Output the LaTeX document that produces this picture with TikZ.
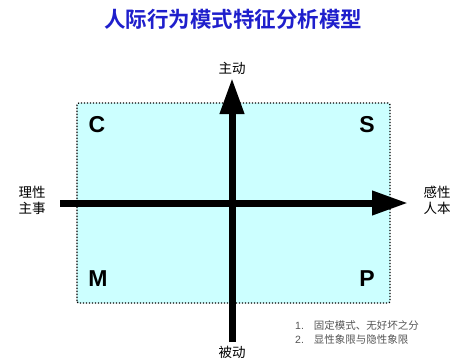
\documentclass[tikz,border=0pt]{standalone}
\usepackage{fontspec}
\setmainfont{Liberation Sans}
\newfontfamily\cjk{Noto Sans CJK SC}
\newfontfamily\cjkb{Noto Sans CJK SC Bold}
\usetikzlibrary{arrows.meta}
\definecolor{boxfill}{HTML}{CCFFFF}
\definecolor{titleblue}{HTML}{1F1FCC}
\definecolor{notegray}{HTML}{555555}
\tikzset{
  axis/.style={line width=7pt, -{Triangle[length=36pt,width=23pt]}},
  quad/.style={font=\fontsize{23}{23}\selectfont\bfseries, inner sep=0pt},
  axlabel/.style={font=\cjk\fontsize{13.5}{16}\selectfont, align=center, inner sep=0pt},
  note/.style={font=\fontsize{10.5}{13}\selectfont, text=notegray, inner sep=0pt, anchor=west}
}
\begin{document}
\begin{tikzpicture}[x=1pt,y=1pt]
\useasboundingbox (0,0) rectangle (468,360);
% box
\draw[fill=boxfill, line width=1.3pt, dash pattern=on 1.3pt off 1.7pt, rounded corners=2pt] (77,57) rectangle (390,257);
% title
\node[font=\cjkb\fontsize{21.5}{24}\selectfont, text=titleblue, inner sep=0pt] (title) at (233,341) {人际行为模式特征分析模型};
% axes
\coordinate (hl) at (60,157);
\coordinate (hr) at (408,157);
\coordinate (vb) at (232,18);
\coordinate (vt) at (232,282);
\draw[axis] (hl) -- (hr);
\draw[axis] (vb) -- (vt);
% quadrant letters
\node[quad] (C) at (97,235) {C};
\node[quad] (S) at (367,235) {S};
\node[quad] (M) at (98,81) {M};
\node[quad] (P) at (367,81) {P};
% axis labels
\node[axlabel] (top) at (232,292) {主动};
\node[axlabel] (bot) at (232,8) {被动};
\node[axlabel] (left) at (32,160) {理性\\主事};
\node[axlabel] (right) at (437,160) {感性\\人本};
% notes
\node[note] (n1) at (295,35) {1.\hspace{10pt}{\cjk 固定模式、无好坏之分}};
\node[note] (n2) at (295,21) {2.\hspace{10pt}{\cjk 显性象限与隐性象限}};
\end{tikzpicture}
\end{document}
